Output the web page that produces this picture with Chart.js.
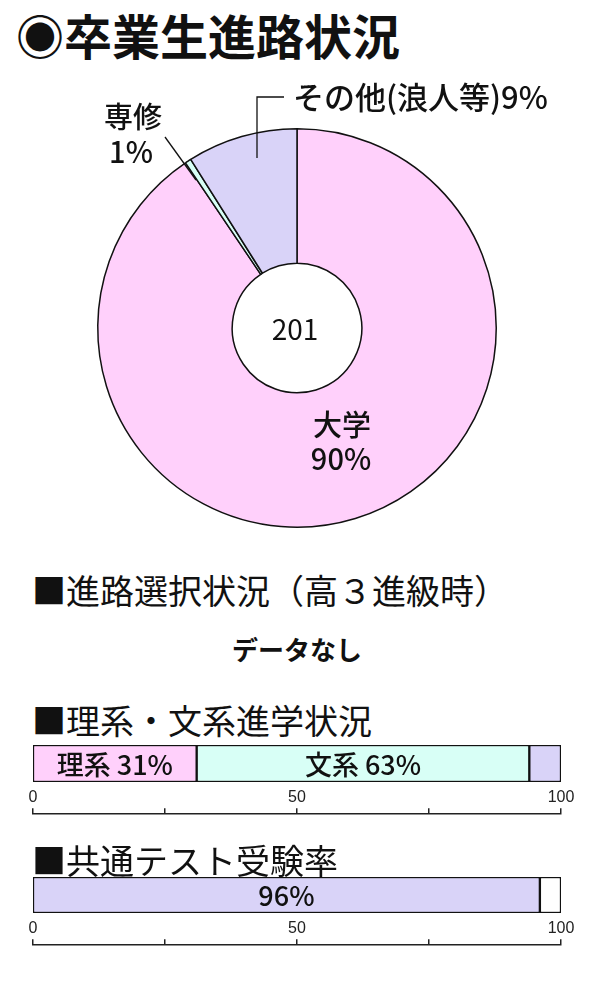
<!DOCTYPE html>
<html lang="ja">
<head>
<meta charset="utf-8">
<script src="https://cdn.jsdelivr.net/npm/chart.js@4.4.1/dist/chart.umd.min.js"></script>
<style>
  body {
    margin: 0;
    width: 600px;
    height: 1000px;
    position: relative;
    background: #fff;
    color: #111;
    font-family: "Noto Sans CJK JP", sans-serif;
    overflow: hidden;
  }
  .abs { position: absolute; white-space: nowrap; }
  .title { left: 16px; top: 6px; font-size: 48px; font-weight: bold; line-height: 56px; }
  .heading { left: 32px; font-size: 34px; line-height: 38px; }
  .nodata { left: 0; width: 594px; top: 634px; text-align: center; font-size: 26px; font-weight: bold; line-height: 30px; }
  canvas { position: absolute; }
</style>
</head>
<body>
<div class="abs title">◉卒業生進路状況</div>
<canvas id="course-chart" width="600" height="480" style="left:0;top:70px"></canvas>

<div class="abs heading" style="top:571px">■進路選択状況（高３進級時）</div>
<div class="abs nodata">データなし</div>

<div class="abs heading" style="top:701px">■理系・文系進学状況</div>
<canvas id="stream-axis" width="568" height="60" style="left:13px;top:787px"></canvas>
<canvas id="stream-chart" width="528" height="37" style="left:33px;top:745px"></canvas>

<div class="abs heading" style="top:841px">■共通テスト受験率</div>
<canvas id="exam-axis" width="568" height="60" style="left:13px;top:918px"></canvas>
<canvas id="exam-chart" width="528" height="36" style="left:33px;top:877px"></canvas>

<script>
// 卒業生進路 (人数)
const courseLabels = ["大学", "専修", "その他(浪人等)"];
const courseCounts = [182, 1, 18];
const coursePercents = ["90%", "1%", "9%"];
const courseColors = ["#FFD0FB", "#D8FFF6", "#D9D3F8"];

// 理系・文系進学状況 (%)
const streamLabels = ["理系", "文系", "その他"];
const streamValues = [31, 63, 6];
const streamTexts = ["理系 31%", "文系 63%", ""];
const streamColors = ["#FFD0FB", "#D8FFF6", "#D9D3F8"];

// 共通テスト受験率 (%)
const examLabels = ["受験", "未受験"];
const examValues = [96, 4];
const examTexts = ["96%", ""];
const examColors = ["#D9D3F8", "#FFFFFF"];

const axisTicks = [0, 50, 100];

const FONT = '"Noto Sans CJK JP", sans-serif';
const INK = "#111";

// draws the centre total and the labels round the doughnut
const courseLabelPlugin = {
  id: "courseLabels",
  afterDraw(chart) {
    const ctx = chart.ctx;
    const arc = chart.getDatasetMeta(0).data[0];
    const total = courseCounts.reduce((a, b) => a + b, 0);

    ctx.save();
    ctx.fillStyle = INK;
    ctx.strokeStyle = INK;
    ctx.lineWidth = 1.3;
    ctx.textAlign = "center";
    ctx.textBaseline = "middle";

    ctx.font = `28px ${FONT}`;
    ctx.fillText(String(total), arc.x - 2, arc.y + 1);

    // 大学
    ctx.font = `500 29px ${FONT}`;
    ctx.fillText(courseLabels[0], 342, 355);
    ctx.fillText(coursePercents[0], 341, 389);

    // 専修
    ctx.fillText(courseLabels[1], 133, 47);
    ctx.fillText(coursePercents[1], 131, 82);
    ctx.beginPath();
    ctx.moveTo(165, 67);
    ctx.lineTo(196, 110);
    ctx.stroke();

    // その他
    ctx.font = `500 31px ${FONT}`;
    ctx.textAlign = "left";
    ctx.fillText(courseLabels[2] + coursePercents[2], 293, 27);
    ctx.beginPath();
    ctx.moveTo(257, 88);
    ctx.lineTo(257, 27);
    ctx.lineTo(284, 27);
    ctx.stroke();
    ctx.restore();
  },
};

// writes a text in the middle of each stacked bar segment
const barTextPlugin = {
  id: "barText",
  afterDatasetsDraw(chart, args, opts) {
    const ctx = chart.ctx;
    ctx.save();
    ctx.fillStyle = INK;
    ctx.font = `500 27px ${FONT}`;
    ctx.textAlign = "center";
    ctx.textBaseline = "middle";
    chart.data.datasets.forEach((ds, i) => {
      const text = opts.texts[i];
      if (!text) return;
      const p = chart.getDatasetMeta(i).data[0].getCenterPoint();
      ctx.fillText(text, p.x, p.y + 1);
    });
    ctx.restore();
  },
};

function createCourseChart() {
  new Chart(document.getElementById("course-chart"), {
    type: "doughnut",
    data: {
      labels: courseLabels,
      datasets: [
        {
          data: courseCounts,
          backgroundColor: courseColors,
          borderColor: INK,
          borderWidth: 1.5,
        },
      ],
    },
    options: {
      responsive: false,
      animation: false,
      cutout: "32.5%",
      layout: { padding: { top: 58, bottom: 22, left: 97, right: 103 } },
      plugins: { legend: { display: false }, tooltip: { enabled: false } },
    },
    plugins: [courseLabelPlugin],
  });
}

function createStackedBar(canvasId, labels, values, colors, texts) {
  new Chart(document.getElementById(canvasId), {
    type: "bar",
    data: {
      labels: [""],
      datasets: labels.map((label, i) => ({
        label: label,
        data: [values[i]],
        backgroundColor: colors[i],
        borderColor: INK,
        borderWidth: 1.5,
        borderSkipped: false,
        barPercentage: 1,
        categoryPercentage: 1,
      })),
    },
    options: {
      indexAxis: "y",
      responsive: false,
      animation: false,
      layout: { padding: 0 },
      plugins: {
        legend: { display: false },
        tooltip: { enabled: false },
        barText: { texts: texts },
      },
      scales: {
        x: { stacked: true, min: 0, max: 100, display: false },
        y: { stacked: true, display: false },
      },
    },
    plugins: [barTextPlugin],
  });
}

// 0-100 scale under each bar: labels above the line, ticks pointing up
function createAxis(canvasId) {
  new Chart(document.getElementById(canvasId), {
    type: "scatter",
    data: { datasets: [] },
    options: {
      responsive: false,
      animation: false,
      layout: { padding: { left: 20, right: 20, top: 0, bottom: 0 } },
      plugins: { legend: { display: false }, tooltip: { enabled: false } },
      scales: {
        x: {
          type: "linear",
          position: "top",
          min: 0,
          max: 100,
          ticks: {
            stepSize: 25,
            autoSkip: false,
            maxRotation: 0,
            padding: 1,
            color: "#222",
            font: { family: '"Liberation Sans Narrow", "Liberation Sans", sans-serif', size: 16 },
            callback: (v) => (axisTicks.includes(v) ? String(v) : ""),
          },
          grid: { drawOnChartArea: false, tickLength: 6, color: "#222", lineWidth: 1.5 },
          border: { color: "#222", width: 1.5 },
        },
        y: { display: false },
      },
    },
  });
}

createCourseChart();
createStackedBar("stream-chart", streamLabels, streamValues, streamColors, streamTexts);
createAxis("stream-axis");
createStackedBar("exam-chart", examLabels, examValues, examColors, examTexts);
createAxis("exam-axis");
</script>
</body>
</html>
